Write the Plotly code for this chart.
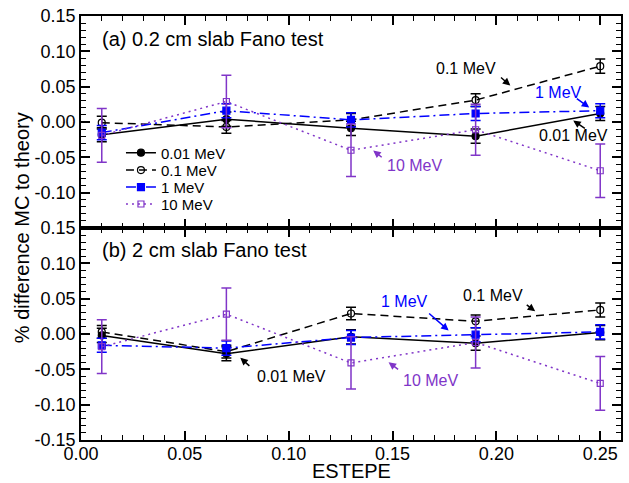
import plotly.graph_objects as go
from plotly.subplots import make_subplots

# ---------------- data ----------------
estepe = [0.01, 0.07, 0.13, 0.19, 0.25]
series_names = ["0.01 MeV", "0.1 MeV", "1 MeV", "10 MeV"]

# (a) 0.2 cm slab
a_001 = [-0.018, 0.004, -0.009, -0.020, 0.012]
a_01 = [-0.001, -0.007, 0.003, 0.031, 0.079]
a_1 = [-0.015, 0.016, 0.003, 0.012, 0.016]
a_10 = [-0.019, 0.029, -0.040, -0.011, -0.069]

# (b) 2 cm slab
b_001 = [-0.002, -0.028, -0.004, -0.013, 0.002]
b_01 = [0.003, -0.025, 0.029, 0.018, 0.034]
b_1 = [-0.016, -0.020, -0.005, -0.001, 0.003]
b_10 = [-0.018, 0.028, -0.041, -0.012, -0.070]

# uncertainties
err_001 = [0.010, 0.010, 0.010, 0.010, 0.010]
err_01 = [0.009, 0.009, 0.009, 0.009, 0.010]
err_1 = [0.010, 0.010, 0.010, 0.010, 0.010]
err_10 = [0.038, 0.037, 0.037, 0.036, 0.038]

x_ticks = [0.00, 0.05, 0.10, 0.15, 0.20, 0.25]
x_ticktext = ["0.00", "0.05", "0.10", "0.15", "0.20", "0.25"]
ya_ticks = [0.15, 0.10, 0.05, 0.00, -0.05, -0.10]
ya_ticktext = ["0.15", "0.10", "0.05", "0.00", "-0.05", "-0.10"]
yb_ticks = [0.15, 0.10, 0.05, 0.00, -0.05, -0.10, -0.15]
yb_ticktext = ["0.15", "0.10", "0.05", "0.00", "-0.05", "-0.10", "-0.15"]

PURPLE = "#8035c8"
BLUE = "#0000ff"
FONT = "Liberation Sans, Arial, Helvetica, sans-serif"

styles = [
    dict(color="black", symbol="circle", size=7, dash="solid"),
    dict(color="black", symbol="circle-open", size=7, dash="8px,5px"),
    dict(color=BLUE, symbol="square", size=7, dash="10px,4px,2px,4px"),
    dict(color=PURPLE, symbol="square-open", size=6, dash="2px,4px"),
]
legend_ids = ["legend", "legend2", "legend3", "legend4"]
legend_rows_y = [0.677, 0.636, 0.596, 0.556]

fig = make_subplots(rows=2, cols=1, shared_xaxes=True, vertical_spacing=0)

panels = [
    (1, [a_001, a_01, a_1, a_10]),
    (2, [b_001, b_01, b_1, b_10]),
]
errs = [err_001, err_01, err_1, err_10]

for row, ys in panels:
    for name, y, e, st, lg in zip(series_names, ys, errs, styles, legend_ids):
        fig.add_trace(
            go.Scatter(
                x=estepe, y=y, name=name, mode="lines+markers",
                line=dict(color=st["color"], width=1.5, dash=st["dash"]),
                marker=dict(color=st["color"], symbol=st["symbol"], size=st["size"],
                            line=dict(color=st["color"], width=1.2)),
                error_y=dict(type="data", array=e, visible=True, color=st["color"],
                             thickness=1.5, width=5),
                showlegend=(row == 1), legend=lg,
            ),
            row=row, col=1,
        )

axis_common = dict(
    showline=True, linecolor="black", linewidth=1.6, mirror="allticks",
    ticks="inside", ticklen=9, tickwidth=1.5, tickcolor="black",
    showgrid=False, zeroline=False, automargin=False,
    tickfont=dict(family=FONT, size=18, color="black"),
    minor=dict(ticks="inside", ticklen=5, tickwidth=1.2, tickcolor="black", dtick=0.01),
)

fig.update_xaxes(range=[0, 0.26], tickvals=x_ticks, ticktext=x_ticktext,
                 ticklabelstandoff=-3, **axis_common)
fig.update_yaxes(range=[-0.15, 0.15], tickvals=ya_ticks, ticktext=ya_ticktext, row=1, col=1, **axis_common)
fig.update_yaxes(range=[-0.15, 0.15], tickvals=yb_ticks, ticktext=yb_ticktext, row=2, col=1, **axis_common)

annotations = []
# panel labels
annotations.append(dict(text="(a) 0.2 cm slab Fano test", xref="paper", yref="paper",
                        x=0.035, y=0.946, xanchor="left", yanchor="middle", showarrow=False,
                        font=dict(family=FONT, size=20, color="black")))
annotations.append(dict(text="(b) 2 cm slab Fano test", xref="paper", yref="paper",
                        x=0.035, y=0.448, xanchor="left", yanchor="middle", showarrow=False,
                        font=dict(family=FONT, size=20, color="black")))
# axis titles
annotations.append(dict(text="% difference MC to theory", xref="paper", yref="paper",
                        x=-0.109, y=0.5, textangle=-90, showarrow=False,
                        xanchor="center", yanchor="middle",
                        font=dict(family=FONT, size=20, color="black")))
annotations.append(dict(text="ESTEPE", xref="paper", yref="paper",
                        x=0.5, y=-0.073, showarrow=False,
                        xanchor="center", yanchor="middle",
                        font=dict(family=FONT, size=20, color="black")))

# callouts: (axis suffix, label, color, text x, text y, tail x, tail y, head x, head y)
callouts = [
    ("", "0.1 MeV", "black", 0.1855, 0.0757, 0.2015, 0.0648, 0.2067, 0.0516),
    ("", "1 MeV", BLUE, 0.2297, 0.0417, 0.2380, 0.0347, 0.2447, 0.0205),
    ("", "0.01 MeV", "black", 0.2370, -0.0198, 0.2433, -0.0106, 0.2370, 0.0021),
    ("", "10 MeV", PURPLE, 0.1605, -0.0622, 0.1455, -0.0516, 0.1407, -0.0403),
    ("2", "0.01 MeV", "black", 0.1013, -0.0608, 0.0818, -0.0470, 0.0767, -0.0337),
    ("2", "1 MeV", BLUE, 0.1557, 0.0460, 0.1669, 0.0308, 0.1770, 0.0050),
    ("2", "0.1 MeV", "black", 0.1985, 0.0545, 0.2139, 0.0427, 0.2187, 0.0322),
    ("2", "10 MeV", PURPLE, 0.1684, -0.0651, 0.1534, -0.0516, 0.1481, -0.0399),
]
for sfx, lab, col, tx, ty, ax_, ay_, hx, hy in callouts:
    annotations.append(dict(text=lab, xref="x" + sfx, yref="y" + sfx, x=tx, y=ty,
                            showarrow=False, font=dict(family=FONT, size=16, color=col)))
    annotations.append(dict(text="", xref="x" + sfx, yref="y" + sfx, x=hx, y=hy,
                            axref="x" + sfx, ayref="y" + sfx, ax=ax_, ay=ay_,
                            showarrow=True, arrowhead=2, arrowsize=1, arrowwidth=1.5,
                            arrowcolor=col))

legend_style = dict(x=0.074, xanchor="left", yanchor="middle",
                    bgcolor="rgba(0,0,0,0)", borderwidth=0,
                    font=dict(family=FONT, size=15, color="black"),
                    tracegroupgap=0, itemwidth=30)
legend_layout = {lg: dict(y=yy, **legend_style) for lg, yy in zip(legend_ids, legend_rows_y)}

fig.update_layout(
    template="none",
    width=629, height=483,
    margin=dict(l=81, r=8, t=16, b=43, autoexpand=False),
    paper_bgcolor="white", plot_bgcolor="white",
    font=dict(family=FONT, color="black"),
    annotations=annotations,
    **legend_layout,
)

fig.write_html(
    "out.html",
    config={"displayModeBar": False},
    post_script="document.body.style.margin='0';document.body.style.padding='0';",
)
